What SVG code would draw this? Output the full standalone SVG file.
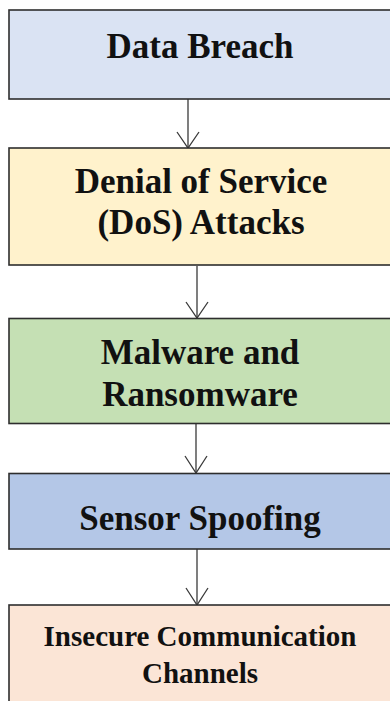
<svg xmlns="http://www.w3.org/2000/svg" width="390" height="701" viewBox="0 0 390 701">
  <style>
    .box { stroke: #2e2e2e; stroke-width: 1.6; }
    .label { font-family: "Liberation Serif", "Times New Roman", serif; font-weight: 700; font-size: 35px; fill: #111; text-anchor: middle; }
    .small { font-size: 29px; }
    .link { stroke: #3a3a3a; stroke-width: 1.3; fill: none; }
  </style>
  <rect width="390" height="701" fill="#ffffff"/>

  <!-- connectors between the threat stages: shaft plus open V head -->
  <g id="connectors">
    <line class="link" x1="188" y1="99" x2="188" y2="148"/>
    <polyline class="link" points="177,132 188,148 199,132"/>
    <line class="link" x1="197" y1="266" x2="197" y2="318"/>
    <polyline class="link" points="186,302 197,318 208,302"/>
    <line class="link" x1="196" y1="424" x2="196" y2="473"/>
    <polyline class="link" points="185,456 196,473 207,456"/>
    <line class="link" x1="197" y1="549" x2="197" y2="605"/>
    <polyline class="link" points="186,588 197,605 208,588"/>
  </g>

  <g id="data-breach">
    <rect class="box" x="9" y="10" width="383" height="89" fill="#dae3f3"/>
    <text class="label" x="200" y="57.5">Data Breach</text>
  </g>

  <g id="dos-attacks">
    <rect class="box" x="9" y="148" width="383" height="117" fill="#fff2cc"/>
    <text class="label" x="201" y="193">Denial of Service</text>
    <text class="label" x="201" y="234">(DoS) Attacks</text>
  </g>

  <g id="malware">
    <rect class="box" x="9" y="318.5" width="383" height="105" fill="#c5e0b4"/>
    <text class="label" x="200" y="364">Malware and</text>
    <text class="label" x="200" y="406">Ransomware</text>
  </g>

  <g id="sensor-spoofing">
    <rect class="box" x="9" y="473.5" width="383" height="75.5" fill="#b4c7e7"/>
    <text class="label" x="200" y="530">Sensor Spoofing</text>
  </g>

  <g id="insecure-channels">
    <rect class="box" x="9" y="605" width="383" height="110" fill="#fbe5d6"/>
    <text class="label small" x="200" y="646">Insecure Communication</text>
    <text class="label small" x="200" y="683">Channels</text>
  </g>
</svg>
